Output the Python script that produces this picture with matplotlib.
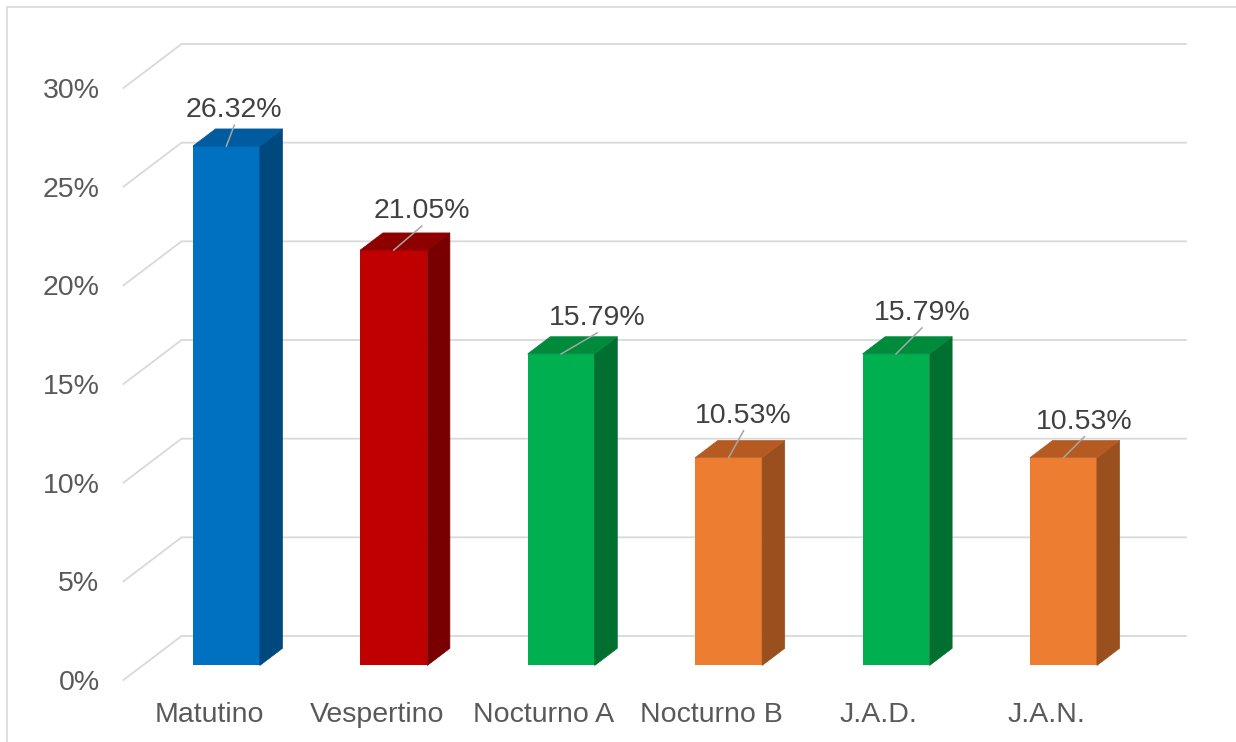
import matplotlib
matplotlib.use("Agg")
import matplotlib.pyplot as plt
from matplotlib.patches import Polygon
from matplotlib.lines import Line2D
from matplotlib.transforms import IdentityTransform, offset_copy

# ---- data -------------------------------------------------------------
categories = ["Matutino", "Vespertino", "Nocturno A", "Nocturno B", "J.A.D.", "J.A.N."]
values = [26.32, 21.05, 15.79, 10.53, 15.79, 10.53]
value_labels = ["26.32%", "21.05%", "15.79%", "10.53%", "15.79%", "10.53%"]
y_ticks = [0, 5, 10, 15, 20, 25, 30]
y_tick_labels = ["0%", "5%", "10%", "15%", "20%", "25%", "30%"]

# ---- style ------------------------------------------------------------
front_colors = ["#0070C0", "#C00000", "#00B050", "#ED7D31", "#00B050", "#ED7D31"]
top_colors = ["#005B9F", "#8E0000", "#008A3C", "#B55B21", "#008A3C", "#B55B21"]
side_colors = ["#00497F", "#780000", "#006F30", "#9A4F1E", "#006F30", "#9A4F1E"]
# leader-line end offsets (pixels) from the bar's top front edge
label_offsets = [(8, 21), (28, 24), (36, 21), (15, 27), (26, 26), (21, 21)]

plt.rcParams["font.family"] = ["Liberation Sans", "DejaVu Sans"]

W, H, DPI = 1236, 742, 100
fig = plt.figure(figsize=(W / DPI, H / DPI), dpi=DPI)
fig.patch.set_facecolor("white")

# front plane of the 3D box
ax = fig.add_axes([123.5 / W, 62 / H, 1004.5 / W, 592 / H])
ax.set_xlim(-0.5, len(categories) - 0.5)
ax.set_ylim(0, 30)
ax.set_autoscale_on(False)
ax.axis("off")

DX, DY = 58, 44          # depth offset of the back wall, pixels
D0, D1 = 0.33, 0.72      # bar depth range (fraction of box depth)
BAR_W = 0.40
GRID = "#D9D9D9"
FS = 20.5


def proj(x, v, d):
    px, py = ax.transData.transform((x, v))
    return px + d * DX, py + d * DY


def poly(points, color, z):
    ax.add_patch(Polygon(points, closed=True, facecolor=color, edgecolor=color,
                         linewidth=0.5, transform=IdentityTransform(),
                         clip_on=False, zorder=z))


def seg(points, color, lw, z):
    xs, ys = zip(*points)
    ax.add_line(Line2D(xs, ys, color=color, linewidth=lw,
                       transform=IdentityTransform(), clip_on=False, zorder=z))


# gridlines: left wall diagonal + back wall horizontal
x_left, x_right = ax.get_xlim()
for v, lab in zip(y_ticks, y_tick_labels):
    seg([proj(x_left, v, 0), proj(x_left, v, 1), proj(x_right, v, 1)], GRID, 1.3, 1)
    ax.annotate(lab, (x_left, v), xytext=(-24, -3), textcoords="offset pixels",
                ha="right", va="center", fontsize=FS, color="#595959",
                annotation_clip=False)

# bars: front face on the D0 plane, then side and top faces
front_tr = offset_copy(ax.transData, fig=fig, x=D0 * DX, y=D0 * DY, units="dots")
ax.bar(range(len(values)), values, width=BAR_W, color=front_colors,
       transform=front_tr, zorder=3, clip_on=False)

for i, v in enumerate(values):
    l, r = i - BAR_W / 2, i + BAR_W / 2
    poly([proj(r, 0, D0), proj(r, v, D0), proj(r, v, D1), proj(r, 0, D1)],
         side_colors[i], 3)
    poly([proj(l, v, D0), proj(r, v, D0), proj(r, v, D1), proj(l, v, D1)],
         top_colors[i], 3)

    # data label with leader line
    sx, sy = proj(i, v, D0)
    ox, oy = label_offsets[i]
    seg([(sx, sy), (sx + ox, sy + oy)], "#A6A6A6", 1.1, 4)
    ax.annotate(value_labels[i], (i, v), xycoords=front_tr,
                xytext=(ox, oy + 15), textcoords="offset pixels",
                ha="center", va="center", fontsize=FS, color="#404040",
                annotation_clip=False, zorder=5)

# category labels below the box
for i, c in enumerate(categories):
    ax.annotate(c, (i, 0), xytext=(2, -35), textcoords="offset pixels",
                ha="center", va="center", fontsize=FS, color="#595959",
                annotation_clip=False)

# chart area border
fig.add_artist(Line2D([7 / W, 7 / W, 1.0], [0.0, 1 - 7 / H, 1 - 7 / H],
                      transform=fig.transFigure, color="#D9D9D9", linewidth=1.2))

fig.savefig("out.png", dpi=DPI, facecolor="white")
